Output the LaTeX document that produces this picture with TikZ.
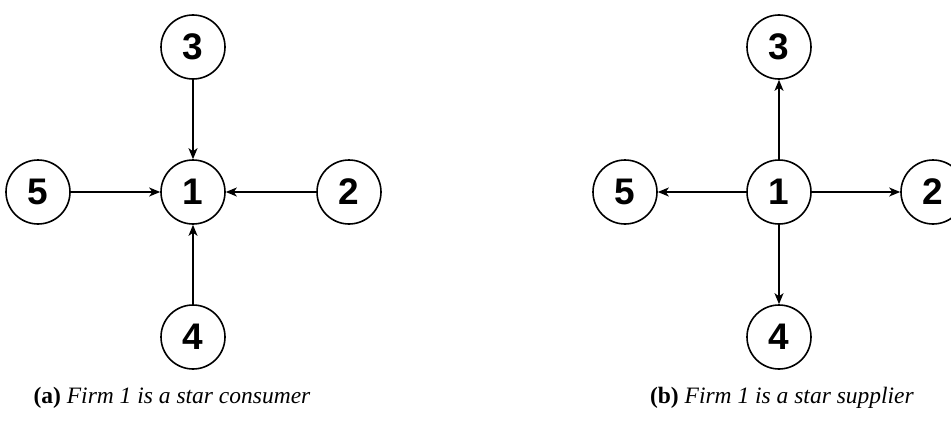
\documentclass[tikz,border=0pt]{standalone}
\usepackage{fontspec}
\setsansfont{Liberation Sans}
\setmainfont{Liberation Serif}
\usetikzlibrary{arrows.meta}
\begin{document}
\begin{tikzpicture}[x=1pt,y=-1pt,
  firm/.style={circle,draw,line width=1.6pt,minimum size=64pt,inner sep=0pt,
    font=\sffamily\bfseries\fontsize{37}{37}\selectfont},
  link/.style={line width=1.3pt,-{Stealth[length=11pt,width=9pt,inset=3pt]}},
  subcaption/.style={font=\fontsize{23.5}{27}\selectfont}]
\useasboundingbox (0,0) rectangle (951,423);
% (a) star consumer: every firm sells to firm 1
\node[firm] (a1) at (193,192) {1};
\node[firm] (a2) at (349,192) {2};
\node[firm] (a3) at (193,47) {3};
\node[firm] (a4) at (193,337) {4};
\node[firm] (a5) at (38,192) {5};
\draw[link] (a3) -- (a1);
\draw[link] (a2) -- (a1);
\draw[link] (a4) -- (a1);
\draw[link] (a5) -- (a1);
\node[subcaption] (capa) at (172,398) {\textbf{(a)} \textit{Firm 1 is a star consumer}};
% (b) star supplier: firm 1 sells to every firm
\node[firm] (b1) at (779,192) {1};
\node[firm] (b2) at (933,192) {2};
\node[firm] (b3) at (779,47) {3};
\node[firm] (b4) at (779,337) {4};
\node[firm] (b5) at (625,192) {5};
\draw[link] (b1) -- (b3);
\draw[link] (b1) -- (b2);
\draw[link] (b1) -- (b4);
\draw[link] (b1) -- (b5);
\node[subcaption] (capb) at (782,398) {\textbf{(b)} \textit{Firm 1 is a star supplier}};
\end{tikzpicture}
\end{document}
